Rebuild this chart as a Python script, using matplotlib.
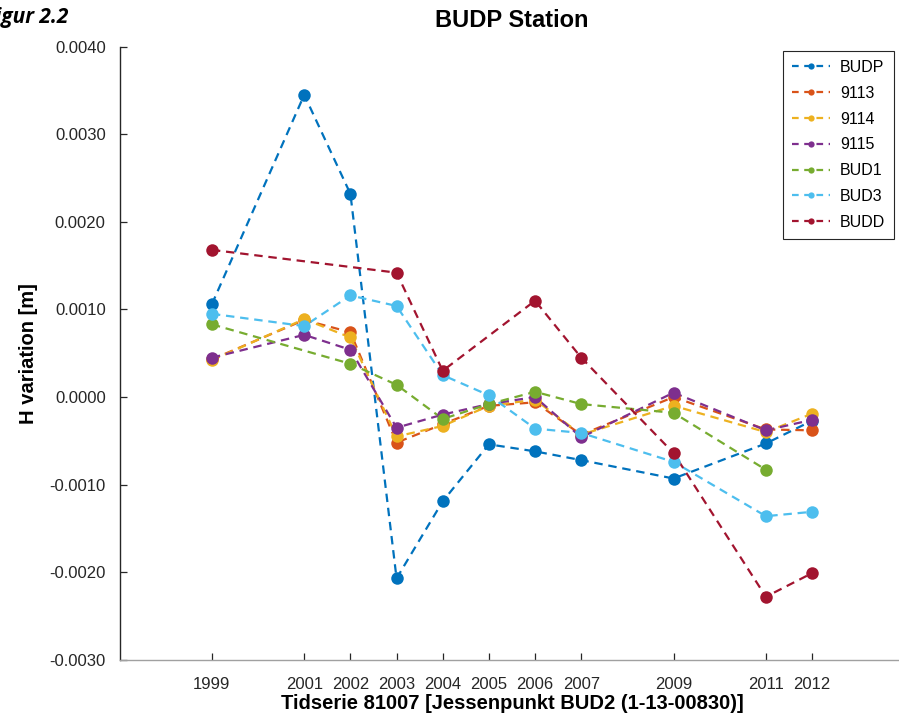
import numpy as np
import matplotlib
matplotlib.use('Agg')
import matplotlib.pyplot as plt

plt.rcParams['font.family'] = ['Liberation Sans', 'DejaVu Sans']

years = [1999, 2001, 2002, 2003, 2004, 2005, 2006, 2007, 2009, 2011, 2012]
nan = np.nan

# H variation [m] per station, nan where no measurement
budp = [0.00106, 0.00345, 0.00232, -0.00207, -0.00119, -0.00054, -0.00062, -0.00072, -0.00093, -0.00053, -0.00027]
p9113 = [0.00043, 0.00088, 0.00074, -0.00052, -0.00031, -0.00010, -0.00006, -0.00043, 0.00000, -0.00037, -0.00038]
p9114 = [0.00042, 0.00089, 0.00068, -0.00045, -0.00033, -0.00010, -0.00003, -0.00043, -0.00010, -0.00040, -0.00019]
p9115 = [0.00045, 0.00071, 0.00054, -0.00035, -0.00020, -0.00008, 0.00000, -0.00046, 0.00005, -0.00038, -0.00026]
bud1 = [0.00083, nan, 0.00038, 0.00014, -0.00025, -0.00008, 0.00006, -0.00008, -0.00018, -0.00083, nan]
bud3 = [0.00095, 0.00081, 0.00116, 0.00104, 0.00025, 0.00002, -0.00036, -0.00041, -0.00074, -0.00136, -0.00131]
budd = [0.00168, nan, nan, 0.00142, 0.00030, nan, 0.00110, 0.00045, -0.00064, -0.00228, -0.00201]

names = ['BUDP', '9113', '9114', '9115', 'BUD1', 'BUD3', 'BUDD']
series = [budp, p9113, p9114, p9115, bud1, bud3, budd]
colors = ['#0072BD', '#D95319', '#EDB120', '#7E2F8E', '#77AC30', '#4DBEEE', '#A2142F']

fig = plt.figure(figsize=(8.99, 7.18), dpi=100)
ax = fig.add_axes([0.133, 0.081, 0.873, 0.854])

x = np.array(years, dtype=float)
for name, vals, c in zip(names, series, colors):
    v = np.array(vals, dtype=float)
    ok = ~np.isnan(v)
    ax.plot(x[ok], v[ok], '--', color=c, lw=1.6, dashes=(3.8, 2.6))
    ax.plot(x[ok], v[ok], 'o', color=c, ms=9, mew=0, zorder=3)

# legend proxies: dashed line with a small dot
handles = [plt.Line2D([], [], ls='--', dashes=(3, 2.5), lw=1.6, color=c, marker='o', ms=4.5, mew=0)
           for c in colors]
leg = ax.legend(handles, names, loc='upper right', fontsize=11.5, handlelength=2.4,
                bbox_to_anchor=(894 / 899, 1 - 51 / 718), bbox_transform=fig.transFigure,
                fancybox=False, framealpha=1, edgecolor='#262626', borderpad=0.55,
                labelspacing=0.68, handletextpad=0.6, borderaxespad=0)
leg.get_frame().set_linewidth(0.8)

ax.set_xlim(1997, 2014)
ax.set_ylim(-0.003, 0.004)
ax.set_xticks(years)
ax.set_xticklabels([str(y) for y in years])
ax.set_yticks(np.arange(-0.003, 0.0041, 0.001))
ax.yaxis.set_major_formatter(matplotlib.ticker.FormatStrFormatter('%.4f'))
ax.tick_params(direction='in', length=5, width=0.9, labelsize=12, colors='#262626')
ax.tick_params(axis='x', pad=12)
ax.tick_params(axis='y', pad=10)

ax.spines['top'].set_visible(False)
ax.spines['right'].set_visible(False)
ax.spines['left'].set_color('#262626')
ax.spines['left'].set_linewidth(1.0)
ax.spines['bottom'].set_color('#a0a0a0')
ax.spines['bottom'].set_linewidth(1.0)

ax.set_title('BUDP Station', fontsize=17, fontweight='bold', pad=14)
ax.set_xlabel('Tidserie 81007 [Jessenpunkt BUD2 (1-13-00830)]', fontsize=14.5,
              fontweight='bold', labelpad=2)
ax.set_ylabel('H variation [m]', fontsize=14.5, fontweight='bold', labelpad=8)

fig.text(68 / 899, 1 - 18 / 718, 'Figur 2.2', ha='right', va='center', fontsize=15,
         fontweight='bold', fontstyle='italic', family=['Open Sans', 'DejaVu Sans'])

fig.savefig('out.png', dpi=100)
